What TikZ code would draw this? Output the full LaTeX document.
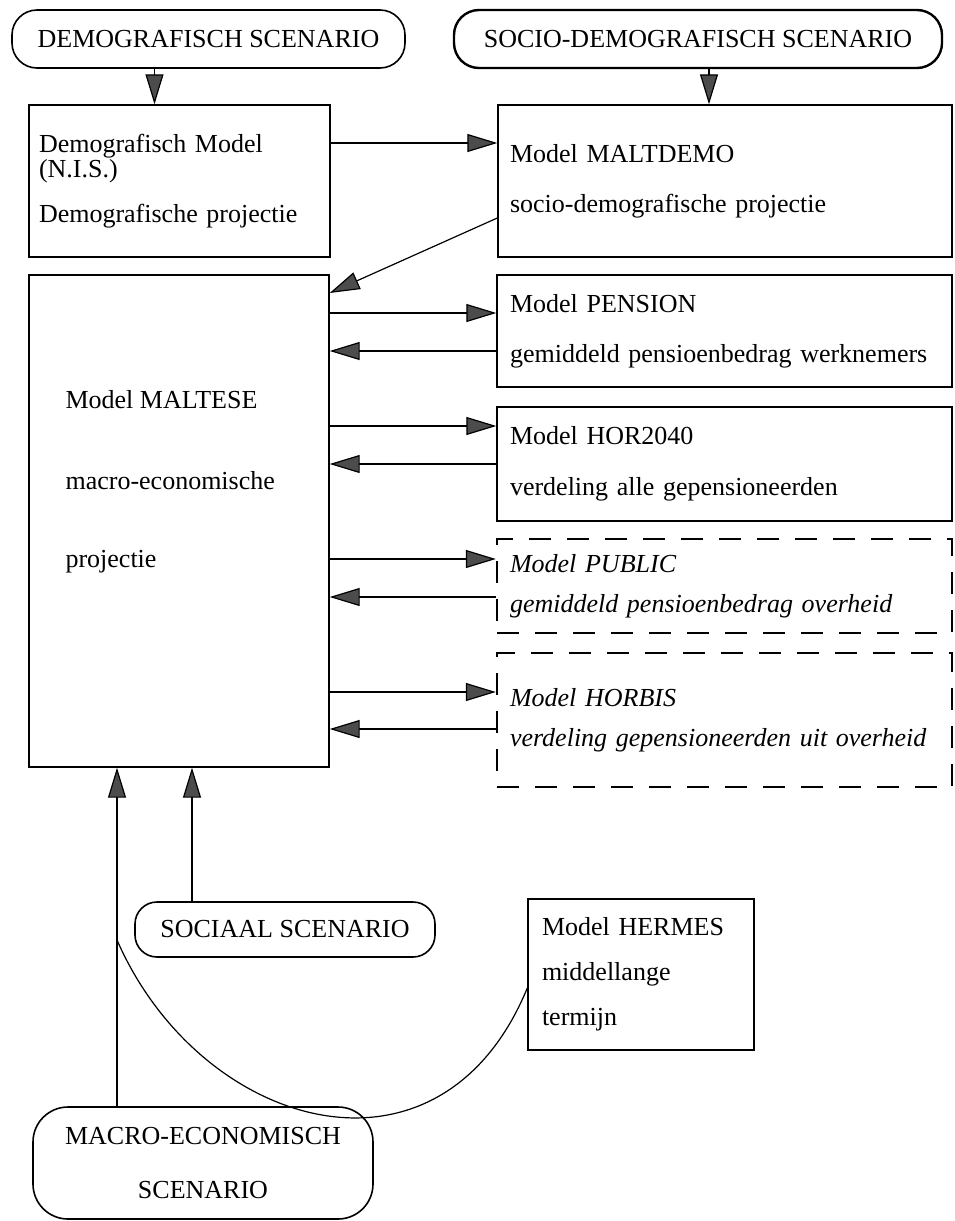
\documentclass[tikz,border=0pt]{standalone}
\usepackage{fontspec}
\setmainfont{Liberation Serif}
\usetikzlibrary{arrows.meta}

\begin{document}
\begin{tikzpicture}[x=1pt,y=-1pt,
	txt/.style={font=\fontsize{26}{25}\selectfont},
	scenario/.style={txt, draw, line width=1.6pt, rounded corners=25pt, inner sep=0pt},
	model/.style={txt, draw, line width=1.4pt, align=left, inner ysep=0pt, inner xsep=13pt},
	dashmodel/.style={model, font=\fontsize{26}{25}\selectfont\itshape, line width=2.4pt, dash pattern=on 22pt off 16pt},
	arr/.style={line width=1.2pt, -{Triangle[length=30pt,width=18pt,fill=black!70]}}]
	\useasboundingbox (0,0) rectangle (954,1221);

	% scenarios
	\node[scenario, minimum width=393pt, minimum height=58pt](demoScen) at (208.5,39){DEMOGRAFISCH SCENARIO};
	\node[scenario, line width=2.4pt, minimum width=488pt, minimum height=58pt](socioScen) at (698,39){SOCIO-DEMOGRAFISCH SCENARIO};
	\node[scenario, rounded corners=22pt, minimum width=300pt, minimum height=55pt](sociaal) at (285,929.5){SOCIAAL SCENARIO};
	\node[scenario, rounded corners=35pt, align=center, minimum width=340pt, minimum height=112pt](macroScen) at (203,1163){MACRO-ECONOMISCH\\[29pt]SCENARIO};

	% models
	\node[model, inner xsep=10pt, text width=281pt, minimum height=152pt](demoModel) at (179.5,181){Demografisch Model\\(N.I.S.)\\[20pt]Demografische projectie};
	\node[model, inner xsep=12pt, text width=430pt, minimum height=152pt](maltdemo) at (725,181){Model MALTDEMO\\[25pt]socio-demografische projectie};
	\node[model, minimum width=300pt, minimum height=492pt](maltese) at (179,521){};
	\node[txt, anchor=west, align=left](malteseText) at (62,482){Model MALTESE\\[56pt]macro-economische\\[53pt]projectie};
	\node[model, text width=429pt, minimum height=112pt](pension) at (724.5,331){Model PENSION\\[25pt]gemiddeld pensioenbedrag werknemers};
	\node[model, text width=429pt, minimum height=114pt](hor) at (724.5,464){Model HOR2040\\[26pt]verdeling alle gepensioneerden};
	\node[dashmodel, text width=429pt, minimum height=94pt](public) at (724.5,586){Model PUBLIC\\[15pt]gemiddeld pensioenbedrag overheid};
	\node[dashmodel, text width=429pt, minimum height=134pt](horbis) at (724.5,720){Model HORBIS\\[15pt]verdeling gepensioneerden uit overheid};
	\node[model, inner xsep=14pt, text width=198pt, minimum height=151pt](hermes) at (641,974.5){Model HERMES\\[20pt]middellange\\[20pt]termijn};

	% connectors
	\draw[arr] (demoScen.south -| 154.5,0) -- (demoModel.north -| 154.5,0);
	\draw[arr] (socioScen.south -| 709,0) -- (maltdemo.north -| 709,0);
	\draw[arr] (demoModel.east |- 0,143) -- (maltdemo.west |- 0,143);
	\draw[arr] (maltdemo.west |- 0,218) -- (maltese.east |- 0,293);
	\draw[arr] (maltese.east |- 0,313) -- (pension.west |- 0,313);
	\draw[arr] (pension.west |- 0,351) -- (maltese.east |- 0,351);
	\draw[arr] (maltese.east |- 0,426) -- (hor.west |- 0,426);
	\draw[arr] (hor.west |- 0,464) -- (maltese.east |- 0,464);
	\draw[arr] (maltese.east |- 0,559) -- (public.west |- 0,559);
	\draw[arr] (public.west |- 0,597) -- (maltese.east |- 0,597);
	\draw[arr] (maltese.east |- 0,692) -- (horbis.west |- 0,692);
	\draw[arr] (horbis.west |- 0,729) -- (maltese.east |- 0,729);
	\draw[arr] (macroScen.north -| 117,0) -- (maltese.south -| 117,0);
	\draw[arr] (sociaal.north -| 192,0) -- (maltese.south -| 192,0);

	\coordinate (bend) at (117,940);
	\draw[line width=1.2pt] (bend) .. controls (200,1130) and (440,1200) .. (hermes.west |- 0,988);
\end{tikzpicture}
\end{document}
